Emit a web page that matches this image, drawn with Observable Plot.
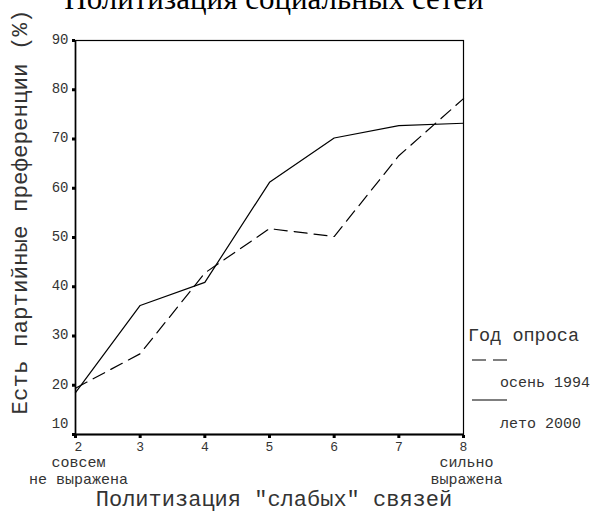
<!DOCTYPE html>
<html><head><meta charset="utf-8">
<script src="https://cdn.jsdelivr.net/npm/d3@7"></script>
<script src="https://cdn.jsdelivr.net/npm/@observablehq/plot@0.6"></script>
<style>body{margin:0;background:#fff}</style>
</head><body><div id="chart"></div>
<script>
const levels = [2, 3, 4, 5, 6, 7, 8];
const autumn1994 = [19.4, 26.4, 42.8, 51.8, 50.2, 66.6, 78.2];
const summer2000 = [18.5, 36.2, 40.9, 61.2, 70.2, 72.7, 73.2];
const seriesNames = ["осень 1994", "лето 2000"];
const yTicks = [10, 20, 30, 40, 50, 60, 70, 80, 90];
const xTicks = [2, 3, 4, 5, 6, 7, 8];
const xEndLabels = [{x: 2, t1: "совсем", t2: "не выражена"}, {x: 8, t1: "сильно", t2: "выражена"}];
const title = "Политизация социальных сетей";
const yTitle = "Есть партийные преференции (%)";
const xTitle = "Политизация \"слабых\" связей";
const legendTitle = "Год опроса";

const rows = [];
levels.forEach((l, i) => {
  rows.push({x: l, y: autumn1994[i], s: seriesNames[0]});
  rows.push({x: l, y: summer2000[i], s: seriesNames[1]});
});

const mono = "'Liberation Mono', 'Courier New', monospace";
const ink = "#333";

const plot = Plot.plot({
  width: 594, height: 512,
  marginLeft: 75, marginRight: 131, marginTop: 40, marginBottom: 78,
  x: {domain: [2, 8], axis: null},
  y: {domain: [10, 90], axis: null},
  style: {fontFamily: mono, background: "#fff", color: "#000"},
  marks: [
    Plot.frame({stroke: "#000", strokeWidth: 1.2}),
    Plot.ruleX([2], {stroke: "#000", strokeWidth: 1.6}),
    Plot.ruleY([10], {stroke: "#000", strokeWidth: 1.8}),
    Plot.dot(yTicks, {x: 2, y: d => d, dx: -2, symbol: "square", r: 1.7, fill: "#000", stroke: null}),
    Plot.dot(xTicks, {x: d => d, y: 10, dy: 2, symbol: "square", r: 1.7, fill: "#000", stroke: null}),
    Plot.text(yTicks.filter(d => d > 10), {x: 2, y: d => d, text: d => String(d), textAnchor: "end", dx: -7, dy: -1, fontSize: 14, fill: ink, fontFamily: mono}),
    Plot.text(yTicks.filter(d => d === 10), {x: 2, y: d => d, text: d => String(d), textAnchor: "end", dx: -7, dy: -11, fontSize: 14, fill: ink, fontFamily: mono}),
    Plot.text(xTicks.filter(d => d === 2), {x: d => d, y: 10, text: d => String(d), dy: 12, dx: 3, fontSize: 13, fill: ink, fontFamily: mono}),
    Plot.text(xTicks.filter(d => d > 2), {x: d => d, y: 10, text: d => String(d), dy: 12, fontSize: 13, fill: ink, fontFamily: mono}),
    Plot.text(xEndLabels, {x: "x", y: 10, text: "t1", dy: 28, dx: 3, fontSize: 15, fill: ink, fontFamily: mono}),
    Plot.text(xEndLabels, {x: "x", y: 10, text: "t2", dy: 45, dx: 3, fontSize: 15, fill: ink, fontFamily: mono}),
    Plot.line(rows.filter(d => d.s === seriesNames[0]), {x: "x", y: "y", stroke: "#000", strokeWidth: 1.2, strokeDasharray: "13,7"}),
    Plot.line(rows.filter(d => d.s === seriesNames[1]), {x: "x", y: "y", stroke: "#000", strokeWidth: 1.2})
  ]
});

const svg = d3.select(plot);
svg.append("text").attr("x", 274).attr("y", 9).attr("text-anchor", "middle")
  .attr("font-family", "'Liberation Serif', 'Times New Roman', serif").attr("font-size", 31).attr("fill", "#000").text(title);
svg.append("text").attr("transform", "translate(27,212) rotate(-90)").attr("text-anchor", "middle")
  .attr("font-family", mono).attr("font-size", 22.5).attr("fill", ink).text(yTitle);
svg.append("text").attr("x", 274).attr("y", 506).attr("text-anchor", "middle")
  .attr("font-family", mono).attr("font-size", 22).attr("fill", ink).text(xTitle);
const lg = svg.append("g").attr("font-family", mono).attr("fill", ink).attr("text-anchor", "start");
lg.append("text").attr("x", 468).attr("y", 341).attr("font-size", 18.5).text(legendTitle);
lg.append("line").attr("x1", 472).attr("x2", 507).attr("y1", 360).attr("y2", 360).attr("stroke", "#000").attr("stroke-width", 1.2).attr("stroke-dasharray", "14,7");
lg.append("text").attr("x", 500).attr("y", 387).attr("font-size", 15).text(seriesNames[0]);
lg.append("line").attr("x1", 472).attr("x2", 507).attr("y1", 400).attr("y2", 400).attr("stroke", "#000").attr("stroke-width", 1.2);
lg.append("text").attr("x", 500).attr("y", 428).attr("font-size", 15).text(seriesNames[1]);

document.getElementById("chart").appendChild(plot);
</script>
</body></html>
